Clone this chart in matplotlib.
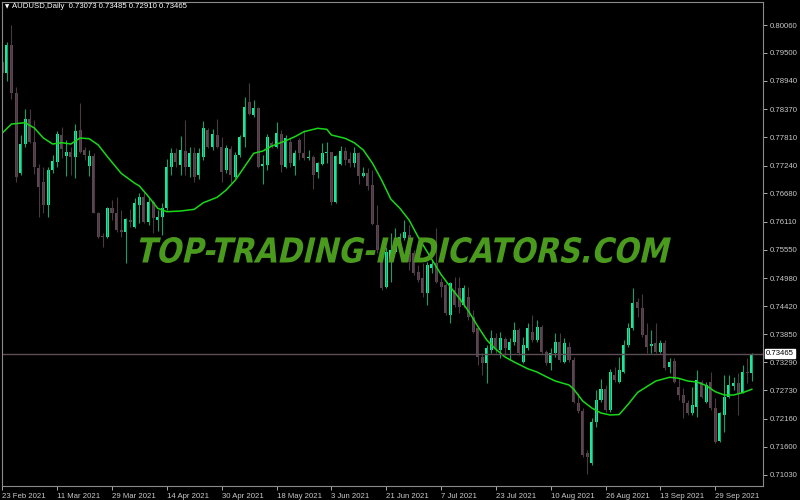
import matplotlib
matplotlib.use("Agg")
import matplotlib.pyplot as plt
import numpy as np
from matplotlib.font_manager import FontProperties
from matplotlib.patches import PathPatch
from matplotlib.textpath import TextPath
from matplotlib.transforms import Affine2D

# ---------- AUDUSD daily bars, 23 Feb 2021 .. 11 Oct 2021 ----------
opens = [
    0.79324, 0.79091, 0.79659, 0.78690, 0.77084, 0.77672, 0.78168, 0.77706, 0.77184, 0.76903,
    0.76448, 0.77150, 0.77317, 0.77853, 0.77437, 0.77517, 0.77405, 0.77953, 0.77551, 0.77236,
    0.77437, 0.76293, 0.75825, 0.75799, 0.76393, 0.76293, 0.75946, 0.75912, 0.76147, 0.76012,
    0.76448, 0.76602, 0.76113, 0.76514, 0.76147, 0.76213, 0.76381, 0.77216, 0.77485, 0.77250,
    0.77538, 0.77216, 0.77485, 0.77050, 0.77405, 0.77953, 0.77618, 0.77853, 0.77618, 0.77150,
    0.77566, 0.77016, 0.77451, 0.77818, 0.78521, 0.78254, 0.78388, 0.77236, 0.77250, 0.77698,
    0.77618, 0.77867, 0.77216, 0.77718, 0.77236, 0.77752, 0.77485, 0.77385, 0.77417, 0.77116,
    0.77271, 0.77485, 0.77505, 0.76514, 0.77271, 0.77531, 0.77371, 0.77285, 0.77497, 0.77030,
    0.77096, 0.76849, 0.76046, 0.75478, 0.74808, 0.75344, 0.75510, 0.75705, 0.75779, 0.75846,
    0.75478, 0.75109, 0.74977, 0.74676, 0.75177, 0.75278, 0.74908, 0.74842, 0.74240, 0.74742,
    0.74776, 0.74441, 0.74607, 0.74206, 0.73973, 0.73403, 0.73271, 0.73538, 0.73772, 0.73538,
    0.73752, 0.73538, 0.73704, 0.73939, 0.73303, 0.73572, 0.73905, 0.73738, 0.74005, 0.73503,
    0.73271, 0.73471, 0.73704, 0.73303, 0.73604, 0.73337, 0.72468, 0.72319, 0.71464, 0.71264,
    0.72098, 0.72534, 0.72749, 0.72333, 0.73036, 0.72901, 0.73102, 0.73638, 0.73973, 0.74507,
    0.74374, 0.73839, 0.73618, 0.73672, 0.73503, 0.73672, 0.73190, 0.73323, 0.72801, 0.72634,
    0.72480, 0.72267, 0.72400, 0.72901, 0.72500, 0.72901, 0.72367, 0.71717, 0.72233, 0.72600,
    0.72815, 0.72869, 0.72681, 0.73102, 0.73073,
]
highs = [
    0.79492, 0.79725, 0.80060, 0.78822, 0.77853, 0.78368, 0.78368, 0.78154, 0.77271, 0.77216,
    0.77216, 0.77451, 0.77933, 0.78007, 0.77752, 0.77618, 0.78073, 0.78489, 0.77618, 0.77551,
    0.77485, 0.76313, 0.75880, 0.76414, 0.76548, 0.76614, 0.76347, 0.76181, 0.76361, 0.76582,
    0.76683, 0.76715, 0.76582, 0.76548, 0.76347, 0.76482, 0.77365, 0.77586, 0.77586, 0.77833,
    0.78154, 0.77618, 0.77618, 0.77586, 0.78134, 0.77987, 0.77967, 0.78168, 0.77818, 0.77652,
    0.77632, 0.77517, 0.77853, 0.78609, 0.78890, 0.78555, 0.78409, 0.77451, 0.77873, 0.77738,
    0.78120, 0.77953, 0.77853, 0.77786, 0.77551, 0.77786, 0.77953, 0.77551, 0.77451, 0.77317,
    0.77686, 0.77718, 0.77517, 0.77451, 0.77632, 0.77618, 0.77517, 0.77618, 0.77517, 0.77216,
    0.77184, 0.77150, 0.76448, 0.75611, 0.75611, 0.75880, 0.75980, 0.75880, 0.76147, 0.76046,
    0.75545, 0.75243, 0.75278, 0.75310, 0.75344, 0.75980, 0.74977, 0.74876, 0.74908, 0.75009,
    0.75009, 0.74842, 0.74808, 0.74340, 0.74005, 0.73471, 0.73638, 0.73939, 0.73873, 0.73905,
    0.73804, 0.73772, 0.74106, 0.73973, 0.73804, 0.74073, 0.74240, 0.74140, 0.74039, 0.73538,
    0.73572, 0.73873, 0.73873, 0.73772, 0.73704, 0.73403, 0.72669, 0.72367, 0.71531, 0.72167,
    0.72735, 0.72949, 0.72835, 0.73150, 0.73202, 0.73403, 0.73738, 0.74073, 0.74776, 0.74575,
    0.74661, 0.74073, 0.73939, 0.74073, 0.73738, 0.73738, 0.73371, 0.73371, 0.72970, 0.72769,
    0.72534, 0.72801, 0.73136, 0.72935, 0.72901, 0.73102, 0.72568, 0.72299, 0.73036, 0.73036,
    0.73002, 0.73070, 0.73236, 0.73371, 0.73485,
]
lows = [
    0.78790, 0.78936, 0.78569, 0.76915, 0.77050, 0.77618, 0.77698, 0.77070, 0.76213, 0.76281,
    0.76201, 0.77084, 0.77216, 0.77385, 0.77030, 0.77050, 0.76983, 0.77485, 0.77351, 0.77036,
    0.76281, 0.75779, 0.75611, 0.75779, 0.76147, 0.75912, 0.75811, 0.75290, 0.76000, 0.75980,
    0.76080, 0.76080, 0.76046, 0.75880, 0.75932, 0.75846, 0.76347, 0.77050, 0.77216, 0.77050,
    0.77050, 0.77016, 0.76915, 0.76963, 0.77351, 0.77586, 0.77551, 0.77586, 0.76915, 0.77084,
    0.76883, 0.76983, 0.77417, 0.77618, 0.78254, 0.78220, 0.77184, 0.76869, 0.77150, 0.77586,
    0.77586, 0.77116, 0.77184, 0.77216, 0.77050, 0.77351, 0.77351, 0.77351, 0.76763, 0.76983,
    0.77250, 0.77285, 0.76448, 0.76494, 0.77250, 0.77250, 0.77216, 0.77216, 0.76869, 0.77016,
    0.76749, 0.76046, 0.75478, 0.74742, 0.74776, 0.74908, 0.75478, 0.75478, 0.75745, 0.75143,
    0.75043, 0.74902, 0.74607, 0.74441, 0.75077, 0.74876, 0.74607, 0.74240, 0.74073, 0.74407,
    0.74274, 0.74395, 0.74140, 0.73873, 0.73236, 0.73036, 0.72869, 0.73471, 0.73471, 0.73371,
    0.73437, 0.73337, 0.73638, 0.73437, 0.73271, 0.73538, 0.73704, 0.73704, 0.73471, 0.73236,
    0.73136, 0.73403, 0.73303, 0.73271, 0.73303, 0.72468, 0.72279, 0.71396, 0.71049, 0.71229,
    0.71998, 0.72500, 0.72299, 0.72299, 0.72901, 0.72869, 0.73070, 0.73604, 0.73939, 0.74206,
    0.73804, 0.73471, 0.73471, 0.73471, 0.73471, 0.73136, 0.73070, 0.72869, 0.72534, 0.72167,
    0.72233, 0.72233, 0.72199, 0.72568, 0.72468, 0.72333, 0.71665, 0.71697, 0.71898, 0.72568,
    0.72735, 0.72233, 0.72669, 0.72869, 0.72910,
]
closes = [
    0.79103, 0.79659, 0.78702, 0.77016, 0.77672, 0.78168, 0.77718, 0.77204, 0.76815, 0.76448,
    0.77150, 0.77331, 0.77867, 0.77566, 0.77505, 0.77405, 0.77939, 0.77517, 0.77451, 0.77437,
    0.76293, 0.75799, 0.75799, 0.76393, 0.76293, 0.75946, 0.75912, 0.76161, 0.76113, 0.76482,
    0.76602, 0.76113, 0.76514, 0.76181, 0.76213, 0.76381, 0.77216, 0.77485, 0.77317, 0.77551,
    0.77216, 0.77497, 0.77016, 0.77485, 0.77987, 0.77618, 0.77873, 0.77618, 0.77116, 0.77586,
    0.77050, 0.77451, 0.77818, 0.78421, 0.78274, 0.78388, 0.77216, 0.77271, 0.77818, 0.77618,
    0.77887, 0.77250, 0.77786, 0.77285, 0.77497, 0.77485, 0.77385, 0.77417, 0.77050, 0.77285,
    0.77497, 0.77505, 0.76514, 0.77431, 0.77531, 0.77351, 0.77285, 0.77497, 0.77030, 0.77096,
    0.76835, 0.76066, 0.75545, 0.74776, 0.75510, 0.75545, 0.75745, 0.75811, 0.75912, 0.75304,
    0.75077, 0.74942, 0.74676, 0.75243, 0.75258, 0.74908, 0.74808, 0.74274, 0.74876, 0.74441,
    0.74407, 0.74776, 0.74206, 0.73905, 0.73403, 0.73271, 0.73572, 0.73772, 0.73572, 0.73772,
    0.73572, 0.73704, 0.73939, 0.73471, 0.73638, 0.73973, 0.73738, 0.74005, 0.73503, 0.73271,
    0.73471, 0.73704, 0.73337, 0.73684, 0.73337, 0.72500, 0.72319, 0.71430, 0.71384, 0.72098,
    0.72534, 0.72749, 0.72333, 0.73102, 0.72935, 0.73136, 0.73638, 0.73973, 0.74475, 0.74374,
    0.73839, 0.73604, 0.73658, 0.73503, 0.73672, 0.73170, 0.73303, 0.72901, 0.72634, 0.72468,
    0.72267, 0.72434, 0.72935, 0.72600, 0.72835, 0.72367, 0.71697, 0.72267, 0.72600, 0.72835,
    0.72869, 0.72681, 0.73102, 0.73070, 0.73465,
]

ma_idx = [0, 2, 5, 7, 9, 11, 13, 15, 17, 19, 21, 23, 26, 29, 30, 32, 34, 36, 39, 42,
          44, 47, 49, 51, 53, 55, 57, 59, 62, 64, 66, 69, 71, 72, 75, 77, 79, 81, 83, 85,
          87, 89, 91, 93, 96, 98, 100, 102, 104, 106, 108, 110, 112, 115, 117, 119, 121, 124, 125, 127,
          129, 131, 133, 135, 137, 139, 141, 143, 146, 148, 150, 152, 154, 156, 158, 160, 162, 164]
ma_val = [0.77893, 0.78073, 0.78099, 0.77993, 0.77792, 0.77672, 0.77698, 0.77672, 0.77792, 0.77778,
          0.77652, 0.77417, 0.77084, 0.76883, 0.76829, 0.76614, 0.76381, 0.76313, 0.76327, 0.76361,
          0.76494, 0.76602, 0.76749, 0.76949, 0.77216, 0.77485, 0.77531, 0.77632, 0.77738, 0.77818,
          0.77919, 0.77987, 0.77967, 0.77853, 0.77786, 0.77698, 0.77551, 0.77285, 0.76949, 0.76568,
          0.76381, 0.76147, 0.75805, 0.75504, 0.75053, 0.74808, 0.74575, 0.74320, 0.74019, 0.73738,
          0.73552, 0.73397, 0.73297, 0.73160, 0.73096, 0.73002, 0.72915, 0.72835, 0.72755, 0.72514,
          0.72373, 0.72273, 0.72233, 0.72243, 0.72454, 0.72685, 0.72801, 0.72915, 0.72990, 0.72970,
          0.72915, 0.72895, 0.72825, 0.72701, 0.72634, 0.72634, 0.72681, 0.72749]

date_labels = ["23 Feb 2021", "11 Mar 2021", "29 Mar 2021", "14 Apr 2021", "30 Apr 2021",
               "18 May 2021", "3 Jun 2021", "21 Jun 2021", "7 Jul 2021", "23 Jul 2021",
               "10 Aug 2021", "26 Aug 2021", "13 Sep 2021", "29 Sep 2021"]
date_ticks = list(range(0, 157, 12))
price_ticks = [0.80060, 0.79500, 0.78940, 0.78370, 0.77810, 0.77240, 0.76680, 0.76110, 0.75550,
               0.74980, 0.74420, 0.73850, 0.73290, 0.72730, 0.72160, 0.71600, 0.71030]

BULL, BEAR = "#1fe89c", "#5b4652"
BULL_WICK, BEAR_WICK = "#12a06c", "#4a3842"
TXT = "#c8c8c8"
FONT = ["Liberation Sans", "DejaVu Sans"]

o, h, l, c = map(np.array, (opens, highs, lows, closes))
x = np.arange(len(o))
up = c >= o

fig = plt.figure(figsize=(8, 5), dpi=100, facecolor="black")
ax = fig.add_axes([2 / 800, 14 / 500, 761 / 800, 484 / 500], facecolor="black")

# candles
ax.vlines(x[up], l[up], h[up], colors=BULL_WICK, linewidth=0.8)
ax.vlines(x[~up], l[~up], h[~up], colors=BEAR_WICK, linewidth=0.8)
body = np.maximum(np.abs(c - o), 0.00012)
ax.bar(x[up], body[up], bottom=np.minimum(o, c)[up], width=0.66, color=BULL, linewidth=0)
ax.bar(x[~up], body[~up], bottom=np.minimum(o, c)[~up], width=0.66, color=BEAR, linewidth=0)

# MA
ax.plot(ma_idx, ma_val, color="#18d818", linewidth=1.1)

# last price line + label
last = closes[-1]
ax.axhline(last, color="#5e4e58", linewidth=1)
ax.annotate(f"{last:.5f}", xy=(1.0, last), xycoords=("axes fraction", "data"),
            xytext=(2, 0), textcoords="offset points", va="center", ha="left",
            fontsize=5.6, family=FONT, color="black",
            bbox=dict(boxstyle="square,pad=0.15", fc="white", ec="white"))

ax.set_xlim(-0.07, 166.45)
ax.set_ylim(0.70808, 0.80522)

for sp in ax.spines.values():
    sp.set_color("#8a8a8a")
    sp.set_linewidth(0.8)

ax.yaxis.tick_right()
ax.set_yticks(price_ticks)
ax.set_yticklabels([f"{p:.5f}" for p in price_ticks], family=FONT)
ax.set_xticks(date_ticks)
ax.set_xticklabels(date_labels, family=FONT, ha="left")
ax.tick_params(colors=TXT, labelsize=5.6, length=3, width=0.6, pad=1.5)
ax.tick_params(axis="x", pad=2)

# header
fig.text(5 / 800, 1 - 7 / 500, "\u25bc", color="white", fontsize=4, va="center", family="DejaVu Sans")
fig.text(12 / 800, 1 - 7 / 500,
         f"AUDUSD,Daily  {opens[-1]:.5f} {highs[-1]:.5f} {lows[-1]:.5f} {closes[-1]:.5f}",
         color="white", fontsize=5.6, va="center", family=FONT)

# watermark, fitted into its pixel box
tp = TextPath((0, 0), "TOP-TRADING-INDICATORS.COM", size=40,
              prop=FontProperties(family="DejaVu Sans", weight="bold"))
ext = tp.get_extents()
box_w, box_h = 530, 26
tr = (Affine2D().translate(-ext.x0, -ext.y0)
      .scale(box_w / ext.width, box_h / ext.height)
      .skew_deg(13, 0)
      .translate(135, 500 - 263))
fig.add_artist(PathPatch(tp, transform=tr, facecolor="#4a9a1e", edgecolor="none", zorder=10))

fig.savefig("out.png", dpi=100, facecolor="black")
